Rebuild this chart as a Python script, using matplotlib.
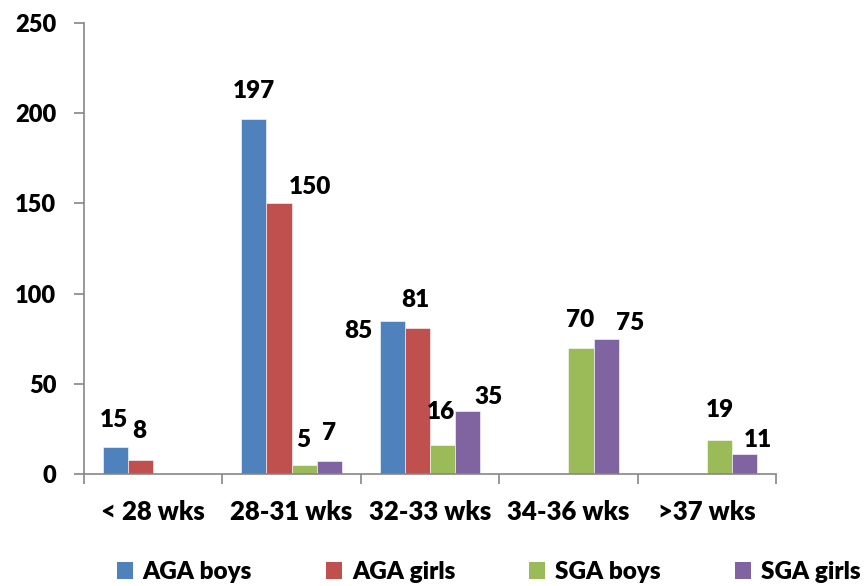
import matplotlib
matplotlib.use("Agg")
import matplotlib.pyplot as plt
import numpy as np
from matplotlib.patches import Patch

categories = ["< 28 wks", "28-31 wks", "32-33 wks", "34-36 wks", ">37 wks"]
aga_boys = [15, 197, 85, 0, 0]
aga_girls = [8, 150, 81, 0, 0]
sga_boys = [0, 5, 16, 70, 19]
sga_girls = [0, 7, 35, 75, 11]
series_names = ["AGA boys", "AGA girls", "SGA boys", "SGA girls"]
y_ticks = [0, 50, 100, 150, 200, 250]

colors = ["#4F81BD", "#C0504D", "#9BBB59", "#8064A2"]
series = [aga_boys, aga_girls, sga_boys, sga_girls]

# label offsets in pixels (dx, dy) from the top centre of each bar
label_offsets = {
    (0, 0): (-1, 27), (1, 0): (-1, 29),
    (0, 1): (0, 28), (1, 1): (31, 16), (2, 1): (-1, 25), (3, 1): (0, 28),
    (0, 2): (-34, -10), (1, 2): (-2, 28), (2, 2): (-2, 33), (3, 2): (21, 14),
    (2, 3): (-1, 28), (3, 3): (24, 16),
    (2, 4): (0, 30), (3, 4): (13, 14),
}

FONT = ["Lato", "DejaVu Sans"]
WEIGHT = 800
plt.rcParams["font.family"] = FONT
plt.rcParams["font.weight"] = WEIGHT

fig = plt.figure(figsize=(8.67, 5.86), dpi=100)
ax = fig.add_axes([0.0969, 0.1911, 0.7982, 0.7697])

x = np.arange(len(categories))
width = 0.182
axis_grey = "#868686"

for i, (vals, col, name) in enumerate(zip(series, colors, series_names)):
    pos = x + (i - 1.5) * width
    for j, v in enumerate(vals):
        if v == 0:
            continue
        ax.bar(pos[j], v, width=width, color=col, edgecolor="white",
               linewidth=0.4, zorder=2)
        dx, dy = label_offsets.get((i, j), (0, 25))
        ax.annotate(str(v), (pos[j], v), xytext=(dx, dy),
                    textcoords="offset pixels", ha="center", va="center",
                    fontsize=17.5, fontweight=WEIGHT, color="black")

ax.set_xlim(-0.5, len(categories) - 0.5)
ax.set_ylim(0, 250)
ax.set_yticks(y_ticks)
ax.set_yticklabels([str(t) for t in y_ticks], fontsize=17, fontweight=WEIGHT)

# category boundary ticks with centred labels
ax.set_xticks(np.arange(-0.5, len(categories), 1.0))
ax.set_xticklabels([])
ax.set_xticks(x, minor=True)
ax.set_xticklabels(categories, minor=True, fontsize=18.5, fontweight=WEIGHT)
ax.tick_params(axis="x", which="minor", length=0, pad=19)
ax.tick_params(axis="x", which="major", length=7, color=axis_grey, width=1.2,
               direction="out")
ax.tick_params(axis="y", length=7, color=axis_grey, width=1.2, pad=13)

for s in ["top", "right"]:
    ax.spines[s].set_visible(False)
for s in ["left", "bottom"]:
    ax.spines[s].set_color(axis_grey)
    ax.spines[s].set_linewidth(1.2)

handles = [Patch(facecolor=c, edgecolor="none") for c in colors]
fig.legend(handles, series_names, loc="center", bbox_to_anchor=(0.5635, 0.024),
           ncol=4, frameon=False, prop={"size": 17.5, "weight": WEIGHT},
           handlelength=0.66, handleheight=0.66, handletextpad=0.4,
           columnspacing=3.05)

fig.savefig("out.png", dpi=100)
